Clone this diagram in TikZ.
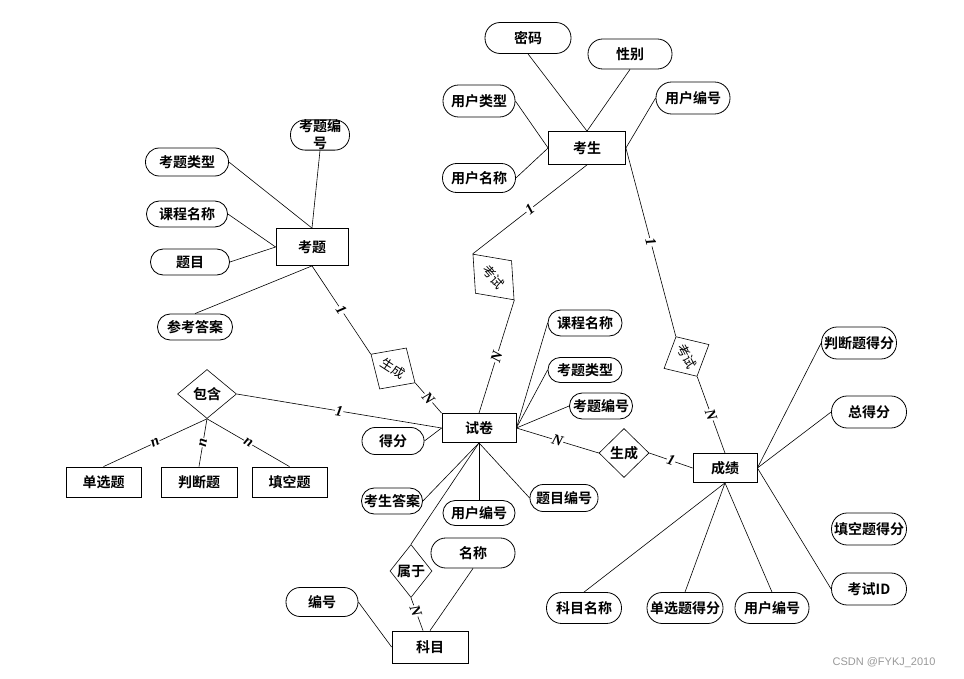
\documentclass[tikz,border=0pt]{standalone}
\usepackage{fontspec}
\setmainfont{Liberation Serif}
\newfontfamily\cjk{Noto Sans CJK SC}[BoldFont={* Bold}]
\newfontfamily\wmfont{Liberation Sans}
\usetikzlibrary{positioning,calc,shapes.geometric}
\tikzset{
  ent/.style={draw, line width=0.8pt, inner sep=0pt, font=\cjk\bfseries\fontsize{14}{16}\selectfont},
  att/.style={draw, line width=0.8pt, inner sep=0pt, align=center, font=\cjk\bfseries\fontsize{14}{17}\selectfont},
  rel/.style={draw, diamond, line width=0.6pt, inner sep=0pt, font=\cjk\bfseries\fontsize{14}{16}\selectfont},
  relthin/.style={rel, font=\cjk\fontsize{13}{15}\selectfont},
  card/.style={midway, sloped, fill=white, inner sep=0.5pt, font=\bfseries\itshape\fontsize{15}{15}\selectfont},
  lnk/.style={line width=0.6pt}
}
\newcommand{\ent}[5]{\node [ent, minimum width=#3, minimum height=#4] (#1) at (#2) {#5}}
\newcommand{\att}[5]{\node [att, minimum width=#3, minimum height=#4, rounded corners={#4pt*0.49}] (#1) at (#2) {#5}}

\begin{document}
\begin{tikzpicture}[x=1pt, y=-1pt]
\useasboundingbox (0,0) rectangle (964,679);

% entities
\ent{KSh}{587,148}{77}{33}{考生};
\ent{KT}{312,247}{72}{37}{考题};
\ent{SJ}{479,428}{74}{29}{试卷};
\ent{CJ}{725,468}{64}{29}{成绩};
\ent{KM}{430,647}{76}{32}{科目};
\ent{DXT}{103.5,482}{75}{30}{单选题};
\ent{PDT}{199,482}{76}{30}{判断题};
\ent{TKT}{289.5,482}{75}{30}{填空题};

% attributes
\att{MM}{528,38}{86}{31}{密码};
\att{XB}{630,54}{84}{30}{性别};
\att{YHLX}{479,101}{72}{32}{用户类型};
\att{YHBH}{693,98}{74}{32}{用户编号};
\att{YHMC}{479,178}{73}{29}{用户名称};
\att{KTBH}{320,135}{59}{30}{考题编\\号};
\att{KTLX}{187,162}{83}{28}{考题类型};
\att{KCMC}{187,214}{81}{26}{课程名称};
\att{TM}{190,262}{79}{26}{题目};
\att{CKDA}{195,327}{75}{26}{参考答案};
\att{DF}{393,441}{62}{27}{得分};
\att{KSDA}{392,501}{61}{26}{考生答案};
\att{YHBHb}{479,513}{72}{25}{用户编号};
\att{TMBH}{564,498}{68}{27}{题目编号};
\att{MC}{473,553}{84}{30}{名称};
\att{BH}{322,602}{72}{29}{编号};
\att{KCMCb}{585,323}{74}{26}{课程名称};
\att{KTLXb}{585,370}{74}{25}{考题类型};
\att{KTBHb}{601,406}{63}{26}{考题编号};
\att{PDTDF}{859,343}{75}{32}{判断题得分};
\att{ZDF}{869,412}{75}{32}{总得分};
\att{TKTDF}{869,529}{75}{32}{填空题得分};
\att{KSID}{869,589}{75}{32}{考试ID};
\att{KMMC}{584,608}{75}{31}{科目名称};
\att{DXTDF}{685,608}{76}{31}{单选题得分};
\att{YHBHc}{772,608}{74}{31}{用户编号};

% relationships
\node [relthin, minimum width=61.6, minimum height=48.8, rotate=-48] (KSa) at (493.5,277) {考试};
\node [relthin, minimum width=52.6, minimum height=49, rotate=-33] (SCa) at (393,368.5) {生成};
\node [relthin, minimum width=45, minimum height=51, rotate=-62] (KSb) at (686.5,356.5) {考试};
\node [rel, minimum width=59, minimum height=49] (BHan) at (207,394) {包含};
\node [rel, minimum width=50, minimum height=49] (SCb) at (624,453) {生成};
\node [rel, minimum width=42, minimum height=53] (SY) at (411,571) {属于};

% attribute links
\draw[lnk] (MM.south) -- (KSh.north);
\draw[lnk] (XB.south) -- (KSh.north);
\draw[lnk] (YHLX.east) -- (KSh.west);
\draw[lnk] (YHMC.east) -- (KSh.west);
\draw[lnk] (YHBH.west) -- (KSh.east);

\draw[lnk] (KTBH.south) -- (KT.north);
\draw[lnk] (KTLX.east) -- (KT.north);
\draw[lnk] (KCMC.east) -- (KT.west);
\draw[lnk] (TM.east) -- (KT.west);
\draw[lnk] (CKDA.north) -- (KT.south);

\draw[lnk] (DF.east) -- (SJ.west);
\draw[lnk] (KSDA.east) -- (SJ.south);
\draw[lnk] (YHBHb.north) -- (SJ.south);
\draw[lnk] (TMBH.west) -- (SJ.south);
\draw[lnk] (KCMCb.west) -- (SJ.east);
\draw[lnk] (KTLXb.west) -- (SJ.east);
\draw[lnk] (KTBHb.west) -- (SJ.east);

\draw[lnk] (CJ.east) -- (PDTDF.west);
\draw[lnk] (CJ.east) -- (ZDF.west);
\draw[lnk] (CJ.east) -- (KSID.west);
\draw[lnk] (CJ.south) -- (KMMC.north);
\draw[lnk] (CJ.south) -- (DXTDF.north);
\draw[lnk] (CJ.south) -- (YHBHc.north);

\draw[lnk] (MC.south) -- (KM.north);
\draw[lnk] (BH.east) -- (KM.west);

% relationship links
\draw[lnk] (KSh.south) -- (KSa.west) node [card] {1};
\draw[lnk] (KSa.east) -- (SJ.north) node [card] {N};
\draw[lnk] (KT.south) -- (SCa.west) node [card] {1};
\draw[lnk] (SCa.east) -- (SJ.north west) node [card] {N};
\draw[lnk] (KSh.east) -- (KSb.west) node [card] {1};
\draw[lnk] (KSb.east) -- (CJ.north) node [card] {N};
\draw[lnk] (BHan.east) -- (SJ.west) node [card] {1};
\draw[lnk] (BHan.south) -- (DXT.north) node [card] {n};
\draw[lnk] (BHan.south) -- (PDT.north) node [card] {n};
\draw[lnk] (BHan.south) -- (TKT.north) node [card] {n};
\draw[lnk] (SJ.east) -- (SCb.west) node [card] {N};
\draw[lnk] (SCb.east) -- (CJ.west) node [card] {1};
\draw[lnk] (SJ.south) -- (SY.north);
\draw[lnk] (SY.south) -- ([xshift=-7pt]KM.north) node [card, pos=0.4] {N};

\node [font=\wmfont\fontsize{11}{11}\selectfont, text=gray!80] (WM) at (884,663) {CSDN @FYKJ\_2010};

\end{tikzpicture}
\end{document}
